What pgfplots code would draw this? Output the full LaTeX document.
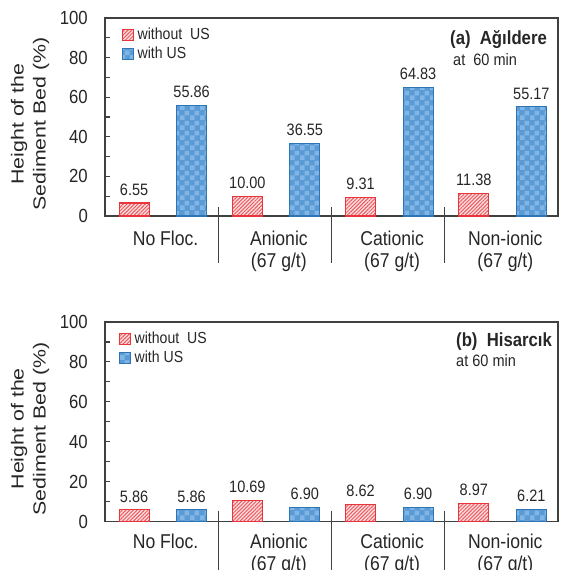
\documentclass[border=0pt]{standalone}
\usepackage{fontspec}
\setmainfont{Liberation Sans}[FakeStretch=0.88]
\newfontfamily\ylabfont{Liberation Sans}[FakeStretch=1.22]
\usepackage{pgfplots}
\pgfplotsset{compat=1.18}
\usetikzlibrary{patterns.meta}

\definecolor{redE}{RGB}{232,52,60}
\definecolor{redL}{RGB}{236,90,96}
\definecolor{redBG}{RGB}{253,222,222}
\definecolor{blueF}{RGB}{91,155,213}
\definecolor{blueL}{RGB}{128,181,229}
\definecolor{blueE}{RGB}{46,117,182}
\definecolor{axcol}{RGB}{64,64,64}
\definecolor{txt}{RGB}{38,38,38}

\tikzdeclarepattern{
  name=mycheck, type=uncolored,
  bounding box={(0,0) and (10pt,10pt)},
  tile size={(10pt,10pt)},
  code={\fill (0pt,0pt) rectangle (5pt,5pt); \fill (5pt,5pt) rectangle (10pt,10pt);}
}

\pgfkeys{/pgf/number format/assume math mode=true}

\pgfplotsset{
  redbar/.style={draw=redE, line width=1.2pt, fill=redBG,
    postaction={pattern={Lines[angle=45,distance=2.6pt,line width=1pt]}, pattern color=redL}},
  bluebar/.style={draw=blueE, line width=1.2pt, fill=blueF,
    postaction={pattern=mycheck, pattern color=blueL}},
  mystyle/.style={
    scale only axis, width=453pt,
    xmin=-0.5, xmax=3.5, ymin=0, ymax=100,
    clip=false,
    /pgf/number format/assume math mode=true,
    axis line style={axcol, line width=1.3pt},
    ytick={0,20,...,100}, minor y tick num=1,
    tick align=inside, ytick pos=left,
    major tick length=5pt, minor tick length=5pt,
    every tick/.style={axcol, line width=1.1pt},
    xtick={0,1,2,3}, major x tick style={draw=none},
    xticklabels={{No Floc.}, {Anionic\\(67 g/t)}, {Cationic\\(67 g/t)}, {Non-ionic\\(67 g/t)}},
    xticklabel style={align=center, anchor=north, inner sep=0pt, font=\fontsize{20}{22}\selectfont, text=txt, xshift=4pt},
    yticklabel style={anchor=east, inner sep=0pt, xshift=-17pt, font=\fontsize{19}{20}\selectfont, text=txt},
    ylabel={Height of the\\Sediment Bed (\%)},
    every axis y label/.style={at={([xshift=-75pt,yshift=-7pt]axis description cs:0,0.5)}, rotate=90, anchor=center,
      align=center, font=\ylabfont\fontsize{17.5}{22}\selectfont, text=txt},
    ybar, bar width=30pt,
    nodes near coords={\pgfmathprintnumber[fixed,fixed zerofill,precision=2]{\pgfplotspointmeta}},
    every node near coord/.append style={font=\fontsize{16.5}{18}\selectfont, text=txt, anchor=south, inner sep=0pt, yshift=7pt},
    legend image code/.code={\draw[#1] (0pt,-5.5pt) rectangle (11pt,5.5pt);},
    legend cell align=left,
    legend style={at={(axis description cs:0,1)}, anchor=north west, draw=none, fill=none,
      inner sep=0pt, outer sep=0pt, font=\fontsize{16}{18}\selectfont, text=txt,
      nodes={inner xsep=3.5pt, inner ysep=1.5pt, text height=12pt, text depth=3.5pt}, row sep=0pt},
  }
}

\begin{document}
\begin{tikzpicture}
\path[use as bounding box] (0pt,0pt) rectangle (560pt,-570pt);

% ---------- panel (a)
\begin{axis}[mystyle, height=198pt, at={(105pt,-216pt)}, anchor=south west,
  xticklabel style={yshift=-9.5pt},
  legend style={xshift=17pt, yshift=-8pt}]
\addplot[redbar, bar shift=-27.5pt] coordinates {(0,6.55) (1,10.00) (2,9.31) (3,11.38)};
\addlegendentry{without\ \ US}
\addplot[bluebar, bar shift=30pt] coordinates {(0,55.86) (1,36.55) (2,64.83) (3,55.17)};
\addlegendentry{with US}
\pgfplotsinvokeforeach{0.5,1.5,2.5}{
  \draw[axcol, line width=1.2pt] ([yshift=9pt]axis cs:#1,0) -- ([yshift=-47pt]axis cs:#1,0);
}
\node[anchor=base west, font=\bfseries\fontsize{19}{20}\selectfont, text=txt, inner sep=0pt]
  at ([xshift=345pt,yshift=-26.4pt]rel axis cs:0,1) {(a)\ \ Ağıldere};
\node[anchor=base west, font=\fontsize{16.5}{18}\selectfont, text=txt, inner sep=0pt]
  at ([xshift=348pt,yshift=-47pt]rel axis cs:0,1) {at\ \ 60 min};
\end{axis}

% ---------- panel (b)
\begin{axis}[mystyle, height=199.5pt, at={(105pt,-521.5pt)}, anchor=south west,
  xticklabel style={yshift=-7.5pt},
  legend style={xshift=14pt, yshift=-8pt}]
\addplot[redbar, bar shift=-27.5pt] coordinates {(0,5.86) (1,10.69) (2,8.62) (3,8.97)};
\addlegendentry{without\ \ US}
\addplot[bluebar, bar shift=30pt] coordinates {(0,5.86) (1,6.90) (2,6.90) (3,6.21)};
\addlegendentry{with US}
\pgfplotsinvokeforeach{0.5,1.5,2.5}{
  \draw[axcol, line width=1.2pt] ([yshift=11pt]axis cs:#1,0) -- ([yshift=-60pt]axis cs:#1,0);
}
\node[anchor=base west, font=\bfseries\fontsize{19}{20}\selectfont, text=txt, inner sep=0pt]
  at ([xshift=351pt,yshift=-24.7pt]rel axis cs:0,1) {(b)\ \ Hisarcık};
\node[anchor=base west, font=\fontsize{16.5}{18}\selectfont, text=txt, inner sep=0pt]
  at ([xshift=351pt,yshift=-44.7pt]rel axis cs:0,1) {at 60 min};
\end{axis}
\end{tikzpicture}
\end{document}
